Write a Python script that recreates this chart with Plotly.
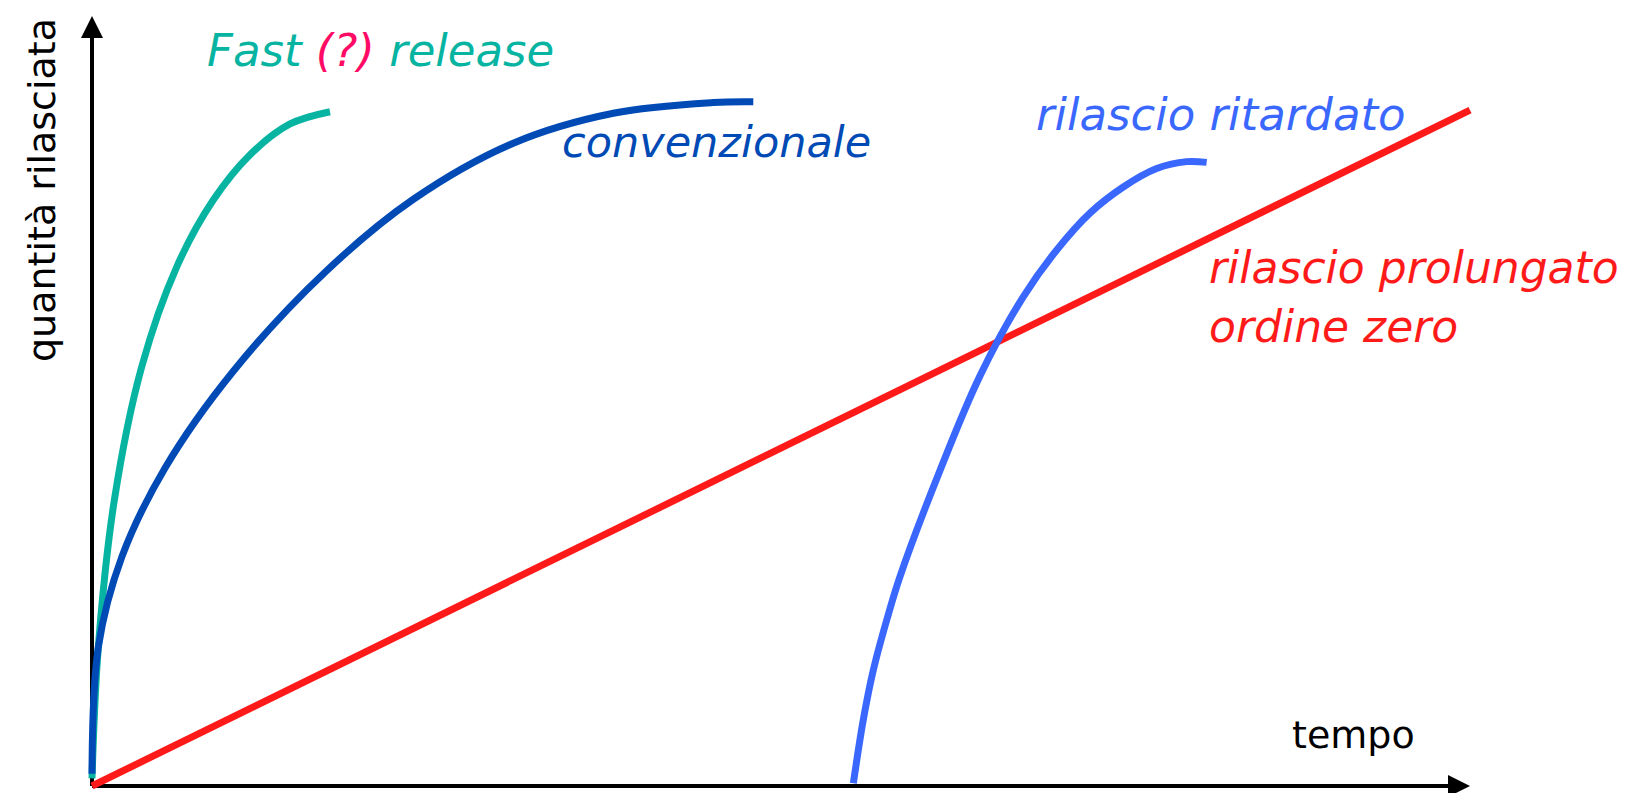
import plotly.graph_objects as go

# ---- data (time units 0..10, quantity 0..100) ----
fast_t = [0.0, 0.046, 0.162, 0.361, 0.615, 0.880, 1.147, 1.437, 1.727]
fast_q = [1.0, 18.1, 37.2, 54.6, 67.6, 76.3, 82.2, 86.2, 87.8]

conv_t = [0.0, 0.046, 0.216, 0.530, 1.025, 1.691, 2.332, 3.057, 3.783, 4.509, 4.799]
conv_q = [1.6, 18.1, 29.8, 41.4, 54.0, 66.9, 76.4, 83.7, 87.6, 89.0, 89.1]

delay_t = [5.525, 5.597, 5.670, 5.767, 5.864, 6.154, 6.444, 6.758, 7.001, 7.242, 7.484,
           7.726, 7.944, 8.089]
delay_q = [0.35, 8.6, 15.1, 21.6, 27.3, 41.1, 53.4, 63.7, 69.8, 74.6, 78.0,
           80.4, 81.3, 81.2]

zero_t = [0.0, 10.0]
zero_q = [0.0, 88.0]

# page geometry (browser body margin of 8px compensated)
W, H = 1640, 793
OFF = 8
X_ORIGIN_PX, Y_ORIGIN_PX = 92, 786
PX_PER_X, PX_PER_Y = 137.8, 7.68
X0 = [(OFF - X_ORIGIN_PX) / PX_PER_X, (OFF + W - X_ORIGIN_PX) / PX_PER_X]
Y0 = [(Y_ORIGIN_PX - (OFF + H)) / PX_PER_Y, (Y_ORIGIN_PX - OFF) / PX_PER_Y]

TEAL = "#07B4A2"
DBLUE = "#004AB5"
BLUE = "#3A68FF"
RED = "#FF1A1A"
PINK = "#FF0A64"
FONT = "DejaVu Sans"

fig = go.Figure()
for t, q, c in [(zero_t, zero_q, RED), (fast_t, fast_q, TEAL),
                (conv_t, conv_q, DBLUE), (delay_t, delay_q, BLUE)]:
    fig.add_trace(go.Scatter(x=t, y=q, mode="lines",
                             line=dict(color=c, width=7, shape="spline", smoothing=1.0),
                             hoverinfo="skip", showlegend=False))

# axes lines (below traces)
fig.add_shape(type="line", x0=0, y0=0, x1=9.85, y1=0, xref="x", yref="y",
              line=dict(color="black", width=4), layer="below")
fig.add_shape(type="line", x0=0, y0=0, x1=0, y1=98.5, xref="x", yref="y",
              line=dict(color="black", width=4), layer="below")
# arrowheads
fig.add_annotation(x=10.0, y=0, ax=-30, ay=0, xref="x", yref="y", text="",
                   showarrow=True, arrowhead=2, arrowsize=1.1, arrowwidth=4, arrowcolor="black")
fig.add_annotation(x=0, y=100.26, ax=0, ay=30, xref="x", yref="y", text="",
                   showarrow=True, arrowhead=2, arrowsize=1.1, arrowwidth=4, arrowcolor="black")


def P(px, py):
    return (px - OFF) / W, 1 - (py - OFF) / H


def label(text, px, py, color, size, xanchor="center", italic=True, angle=0):
    x, y = P(px, py)
    t = f"<i>{text}</i>" if italic else text
    fig.add_annotation(x=x, y=y, xref="paper", yref="paper", text=t, showarrow=False,
                       xanchor=xanchor, yanchor="middle", textangle=angle,
                       font=dict(family=FONT, size=size, color=color))


label(f"Fast <span style='color:{PINK}'>(?)</span> release", 380, 50, TEAL, 45)
label("convenzionale", 716, 142, DBLUE, 43)
label("rilascio ritardato", 1221, 114, BLUE, 45)
label("rilascio prolungato", 1207, 268, RED, 44, xanchor="left")
label("ordine zero", 1207, 326, RED, 44, xanchor="left")
label("tempo", 1353, 735, "black", 38, italic=False)
label("quantità rilasciata", 42, 190, "black", 38, italic=False, angle=-90)

fig.update_layout(
    width=W, height=H, margin=dict(l=0, r=0, t=0, b=0),
    paper_bgcolor="white", plot_bgcolor="white",
    xaxis=dict(range=X0, visible=False, fixedrange=True),
    yaxis=dict(range=Y0, visible=False, fixedrange=True),
    showlegend=False,
)
fig.write_html("out.html")
